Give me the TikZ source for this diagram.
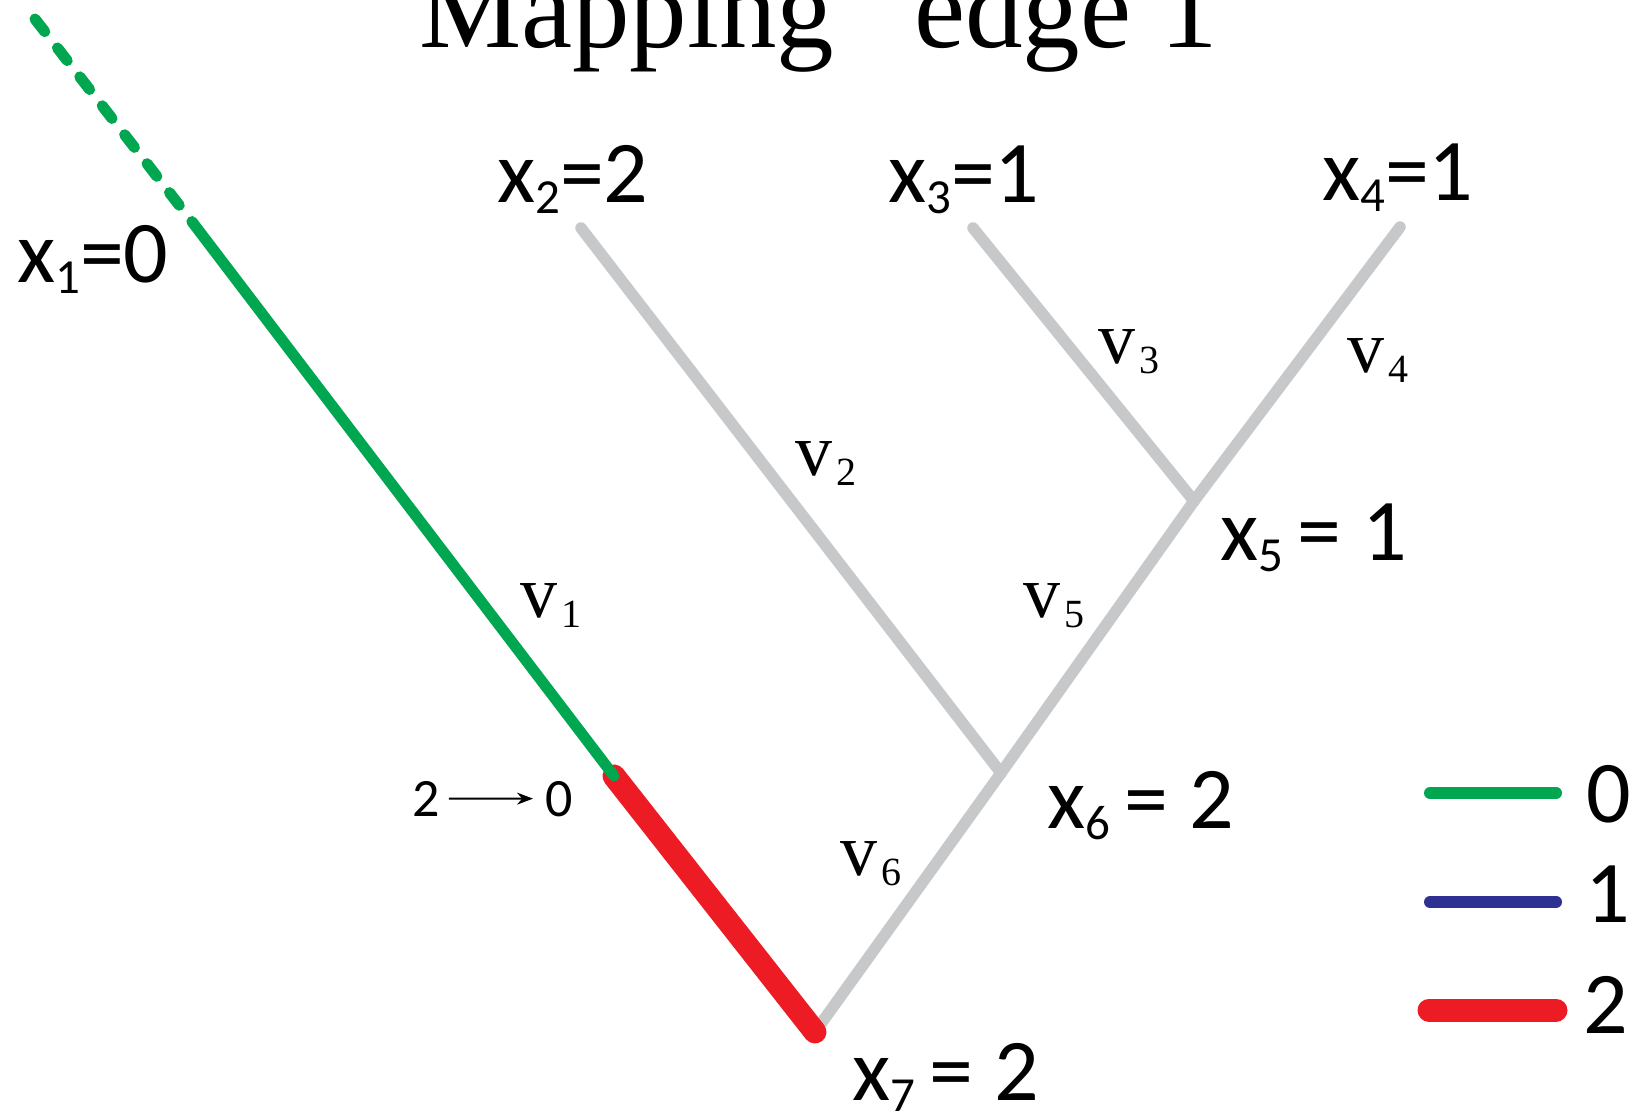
\documentclass[tikz,border=0pt]{standalone}
\usepackage{fontspec}
\setmainfont{Liberation Serif}
\newfontfamily\labfont{Carlito}
\usetikzlibrary{arrows.meta}
\definecolor{cgreen}{HTML}{00A650}
\definecolor{cred}{HTML}{ED1C24}
\definecolor{cblue}{HTML}{2E3192}
\definecolor{cgray}{HTML}{C7C8CA}
\newcommand\xsb[1]{\raisebox{-11pt}{\fontsize{49}{49}\selectfont #1}}
\newcommand\vsb[1]{\hspace{4pt}\raisebox{-10pt}{\fontsize{40}{40}\selectfont #1}}
\begin{document}
\begin{tikzpicture}[x=1pt,y=-1pt,
  branch/.style={draw=cgray,line width=11.5pt,line cap=round},
  greenline/.style={draw=cgreen,line width=11pt,line cap=round},
  redline/.style={draw=cred,line width=23pt,line cap=round},
  xlab/.style={anchor=base west,inner sep=0pt,font=\labfont\fontsize{88}{88}\selectfont},
  vlab/.style={anchor=base west,inner sep=0pt,font=\fontsize{74}{74}\selectfont},
  smalllab/.style={anchor=base west,inner sep=0pt,font=\labfont\fontsize{54}{54}\selectfont}]
\useasboundingbox[fill=white] (0,0) rectangle (1641,1113);
% title (top clipped)
\node[anchor=base west,inner sep=0pt,font=\fontsize{115}{115}\selectfont] (title) at (419,48) {Mapping “edge 1”};
% tree points
\coordinate (t0) at (35,19);
\coordinate (g0) at (193,223);
\coordinate (j1) at (614,776);
\coordinate (root) at (815,1032);
\coordinate (l2) at (581,228);
\coordinate (l3) at (973,228);
\coordinate (l4) at (1400,227);
\coordinate (n5) at (1194,501);
\coordinate (n6) at (1001,773);
% gray branches
\draw[branch] (l2) -- (n6);
\draw[branch] (l3) -- (n5);
\draw[branch] (l4) -- (n5);
\draw[branch] (n5) -- (n6);
\draw[branch] (n6) -- (root);
% edge 1
\draw[redline] (j1) -- (root);
\draw[greenline] (g0) -- (j1);
\draw[greenline,dash pattern=on 16pt off 20.6pt] (t0) -- (g0);
% x labels
\node[xlab] (x1) at (17,282) {x\xsb{1}=0};
\node[xlab] (x2) at (497,202) {x\xsb{2}=2};
\node[xlab] (x3) at (888,202) {x\xsb{3}=1};
\node[xlab] (x4) at (1322,200) {x\xsb{4}=1};
\node[xlab] (x5) at (1220,560) {x\xsb{5}\hspace{14pt}=\hspace{22pt}1};
\node[xlab] (x6) at (1047,828) {x\xsb{6}\hspace{14pt}=\hspace{22pt}2};
\node[xlab] (x7) at (852,1100) {x\xsb{7}\hspace{14pt}=\hspace{22pt}2};
% v labels
\node[vlab] (v1) at (520,617) {v\vsb{1}};
\node[vlab] (v2) at (795,475) {v\vsb{2}};
\node[vlab] (v3) at (1098,363) {v\vsb{3}};
\node[vlab] (v4) at (1347,372) {v\vsb{4}};
\node[vlab] (v5) at (1023,617) {v\vsb{5}};
\node[vlab] (v6) at (840,875) {v\vsb{6}};
% 2 -> 0
\node[smalllab] (a2) at (412,816) {2};
\node[smalllab] (a0) at (545,816) {0};
\draw[line width=2pt,-{Stealth[length=16pt,width=12pt]},shorten <=9pt,shorten >=12pt] (a2.east) -- (a0.west);
% legend
\coordinate (lg0a) at (1430,793); \coordinate (lg0b) at (1556,793);
\coordinate (lg1a) at (1430,902); \coordinate (lg1b) at (1556,902);
\coordinate (lg2a) at (1429,1010); \coordinate (lg2b) at (1556,1010);
\draw[draw=cgreen,line width=12pt,line cap=round] (lg0a) -- (lg0b);
\draw[draw=cblue,line width=12pt,line cap=round] (lg1a) -- (lg1b);
\draw[draw=cred,line width=23pt,line cap=round] (lg2a) -- (lg2b);
\node[xlab] (k0) at (1586,822) {0};
\node[xlab] (k1) at (1585,922) {1};
\node[xlab] (k2) at (1583,1033) {2};
\end{tikzpicture}
\end{document}
